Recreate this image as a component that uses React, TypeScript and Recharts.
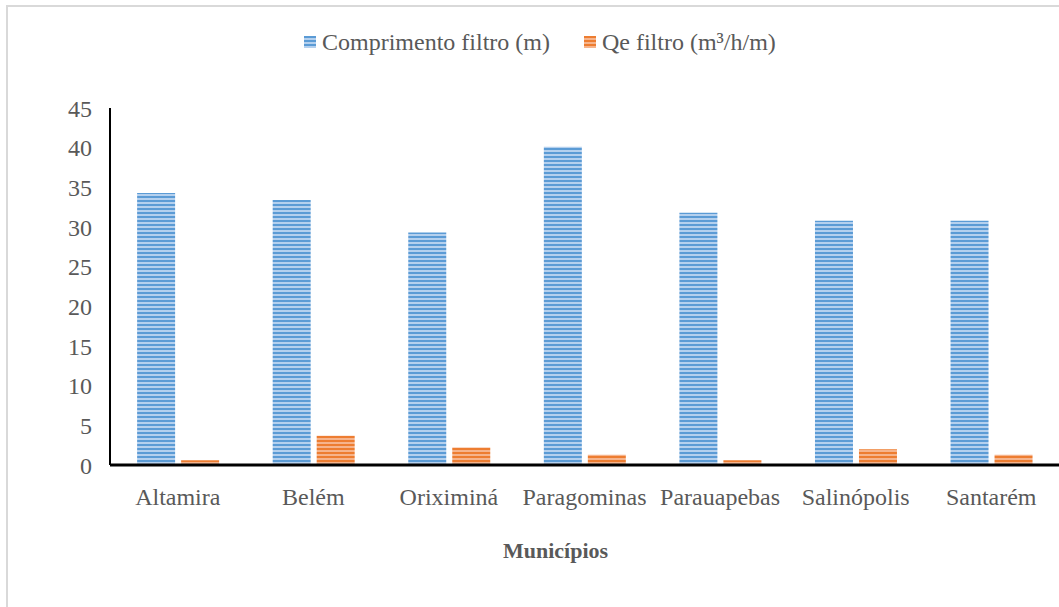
import { BarChart, Bar, XAxis, YAxis, ResponsiveContainer } from "recharts";

const municipios = ["Altamira", "Belém", "Oriximiná", "Paragominas", "Parauapebas", "Salinópolis", "Santarém"];
const comprimentoFiltro = [34.3, 33.4, 29.3, 40.1, 31.8, 30.8, 30.8];
const qeFiltro = [0.6, 3.7, 2.2, 1.3, 0.6, 2.0, 1.3];
const yTicks = [0, 5, 10, 15, 20, 25, 30, 35, 40, 45];

const data = municipios.map((m, i) => ({
  municipio: m,
  comprimento: comprimentoFiltro[i],
  qe: qeFiltro[i],
}));

const font = "'Liberation Serif', 'Times New Roman', serif";

function LegendItem({ color, light, label }: { color: string; light: string; label: string }) {
  return (
    <span style={{ display: "inline-flex", alignItems: "center", marginRight: 34 }}>
      <span
        style={{
          width: 12,
          height: 12,
          marginRight: 6,
          background: `repeating-linear-gradient(to bottom, ${color} 0px, ${color} 2px, ${light} 2px, ${light} 4px)`,
        }}
      />
      <span>{label}</span>
    </span>
  );
}

export default function App() {
  return (
    <div style={{ position: "fixed", left: 0, top: 0, width: 1059, height: 607, overflow: "hidden", background: "#fff" }}>
      <div
        style={{
          position: "absolute",
          left: 6,
          top: 5,
          width: 1100,
          height: 700,
          border: "2px solid #d9d9d9",
        }}
      />
      <div
        style={{
          position: "absolute",
          top: 27,
          left: 304,
          fontFamily: font,
          fontSize: 24,
          lineHeight: "30px",
          color: "#595959",
          whiteSpace: "nowrap",
          display: "flex",
        }}
      >
        <LegendItem color="#5B9BD5" light="#B4D0EE" label="Comprimento filtro (m)" />
        <LegendItem color="#ED7D31" light="#F6B48C" label="Qe filtro (m³/h/m)" />
      </div>
      <div style={{ position: "absolute", left: 0, top: 0, width: 1059, height: 607 }}>
        <ResponsiveContainer width="100%" height="100%">
          <BarChart
            data={data}
            margin={{ top: 108, right: 0, left: 0, bottom: 42 }}
            barCategoryGap="20%"
            barGap={6}
          >
            <defs>
              <pattern id="stripeBlue" width="4" height="4" patternUnits="userSpaceOnUse">
                <rect width="4" height="4" fill="#B4D0EE" />
                <rect width="4" height="2" fill="#5B9BD5" />
              </pattern>
              <pattern id="stripeOrange" width="4" height="4" patternUnits="userSpaceOnUse">
                <rect width="4" height="4" fill="#F6B48C" />
                <rect width="4" height="2" fill="#ED7D31" />
              </pattern>
            </defs>
            <XAxis
              dataKey="municipio"
              height={100}
              tickLine={false}
              tickMargin={17}
              axisLine={{ stroke: "#000", strokeWidth: 3 }}
              tick={{ fill: "#595959", fontSize: 24, fontFamily: font }}
              interval={0}
              label={{
                value: "Municípios",
                position: "insideBottom",
                offset: 7,
                dx: -29,
                fill: "#595959",
                fontSize: 22,
                fontWeight: "bold",
                fontFamily: font,
              }}
            />
            <YAxis
              width={110}
              domain={[0, 45]}
              ticks={yTicks}
              tickLine={false}
              tickMargin={12}
              axisLine={{ stroke: "#000", strokeWidth: 2 }}
              tick={{ fill: "#595959", fontSize: 24, fontFamily: font }}
            />
            <Bar dataKey="comprimento" name="Comprimento filtro (m)" fill="url(#stripeBlue)" isAnimationActive={false} />
            <Bar dataKey="qe" name="Qe filtro (m³/h/m)" fill="url(#stripeOrange)" isAnimationActive={false} />
          </BarChart>
        </ResponsiveContainer>
      </div>
    </div>
  );
}
